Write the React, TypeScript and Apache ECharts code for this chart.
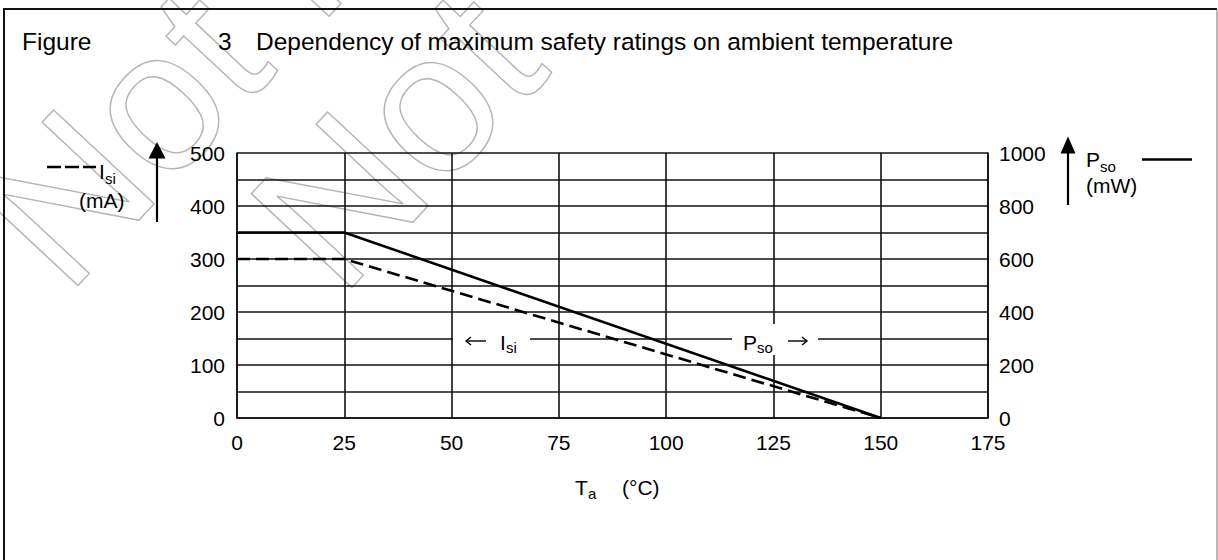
import React, { useEffect, useRef } from "react";
import * as echarts from "echarts";

// Ambient temperature Ta (°C) break points
const temperatures = [0, 25, 150];
// Safety current Isi (mA), left axis, dashed
const isiValues = [300, 300, 0];
// Safety power Pso (mW), right axis, solid
const psoValues = [700, 700, 0];
// Tick labels
const xTickLabels = [0, 25, 50, 75, 100, 125, 150, 175];
const leftTickLabels = [0, 100, 200, 300, 400, 500];
const rightTickLabels = [0, 200, 400, 600, 800, 1000];
const watermarkLines = ["Not for new design", "Not"];

const FONT = "'Liberation Sans', Arial, Helvetica, sans-serif";

export default function App() {
  const ref = useRef<HTMLDivElement>(null);
  useEffect(() => {
    if (!ref.current) return;
    const chart = echarts.init(ref.current, undefined, { renderer: "svg" });
    const txt = (text: string, x: number, y: number, size = 21, extra: any = {}) => ({
      type: "text",
      x,
      y,
      z: 10,
      style: {
        text,
        fill: "#000",
        font: `${size}px ${FONT}`,
        align: "left",
        verticalAlign: "middle",
        ...extra,
      },
    });
    const arrow = (x1: number, x2: number, y: number) => {
      const dir = x2 > x1 ? 1 : -1;
      return [
        { type: "line", z: 10, shape: { x1, y1: y, x2, y2: y }, style: { stroke: "#000", lineWidth: 1.4 } },
        {
          type: "polyline",
          z: 10,
          shape: { points: [[x2 - dir * 5, y - 4], [x2, y], [x2 - dir * 5, y + 4]] },
          style: { stroke: "#000", lineWidth: 1.4, fill: "none" },
        },
      ];
    };
    const watermark = (text: string, x: number, y: number) => ({
      type: "text",
      x,
      y,
      rotation: (47 * Math.PI) / 180,
      z: -1,
      silent: true,
      style: {
        text,
        font: `200px ${FONT}`,
        fill: "rgba(0,0,0,0)",
        stroke: "#b4b4b4",
        lineWidth: 1.4,
        align: "left",
        verticalAlign: "middle",
      },
    });
    const gridColor = "#111";
    const option: any = {
      animation: false,
      backgroundColor: "#fff",
      textStyle: { fontFamily: FONT },
      grid: { left: 237, right: 230, top: 153, bottom: 142, containLabel: false },
      xAxis: {
        type: "value",
        min: 0,
        max: 175,
        interval: 25,
        axisLine: { show: true, lineStyle: { color: gridColor, width: 1.6 } },
        axisTick: { show: false },
        splitLine: { show: true, lineStyle: { color: gridColor, width: 1.6 } },
        axisLabel: {
          color: "#000",
          fontSize: 21,
          fontFamily: FONT,
          margin: 14,
          formatter: (v: number) => (xTickLabels.includes(v) ? String(v) : ""),
        },
      },
      yAxis: [
        {
          type: "value",
          min: 0,
          max: 500,
          interval: 50,
          position: "left",
          axisLine: { show: true, lineStyle: { color: gridColor, width: 1.6 } },
          axisTick: { show: false },
          splitLine: { show: true, lineStyle: { color: gridColor, width: 1.6 } },
          axisLabel: {
            color: "#000",
            fontSize: 21,
            fontFamily: FONT,
            margin: 12,
            padding: [6, 0, 0, 0],
            formatter: (v: number) => (leftTickLabels.includes(v) ? String(v) : ""),
          },
        },
        {
          type: "value",
          min: 0,
          max: 1000,
          interval: 100,
          position: "right",
          axisLine: { show: true, lineStyle: { color: gridColor, width: 1.6 } },
          axisTick: { show: false },
          splitLine: { show: false },
          axisLabel: {
            color: "#000",
            fontSize: 21,
            fontFamily: FONT,
            margin: 11,
            padding: [6, 0, 0, 0],
            formatter: (v: number) => (rightTickLabels.includes(v) ? String(v) : ""),
          },
        },
      ],
      series: [
        {
          name: "Isi",
          type: "line",
          yAxisIndex: 0,
          symbol: "none",
          z: 5,
          lineStyle: { color: "#000", width: 2.6, type: [13, 6] },
          data: temperatures.map((t, i) => [t, isiValues[i]]),
        },
        {
          name: "Pso",
          type: "line",
          yAxisIndex: 1,
          symbol: "none",
          z: 5,
          lineStyle: { color: "#000", width: 2.6, type: "solid" },
          data: temperatures.map((t, i) => [t, psoValues[i]]),
        },
      ],
      graphic: [
        // watermark (outlined, light grey), two diagonal lines
        watermark(watermarkLines[0], 16, 250),
        watermark(watermarkLines[1], 290, 252),
        // frame
        { type: "line", shape: { x1: 3, y1: 9, x2: 1217, y2: 9 }, style: { stroke: "#111", lineWidth: 2 } },
        { type: "line", shape: { x1: 4, y1: 9, x2: 4, y2: 560 }, style: { stroke: "#111", lineWidth: 2 } },
        { type: "line", shape: { x1: 1217, y1: 9, x2: 1217, y2: 560 }, style: { stroke: "#888", lineWidth: 1.2 } },
        // title
        txt("Figure", 22, 41, 24.5),
        txt("3", 218, 41, 24.5),
        txt("Dependency of maximum safety ratings on ambient temperature", 256, 41, 24.5),
        // left axis annotation
        { type: "line", shape: { x1: 47, y1: 167, x2: 96, y2: 167 }, style: { stroke: "#000", lineWidth: 2.4, lineDash: [14, 4] } },
        txt("I", 99, 171.5, 21),
        txt("si", 105, 178.5, 15),
        txt("(mA)", 79, 200, 21),
        { type: "line", shape: { x1: 157, y1: 156, x2: 157, y2: 222 }, style: { stroke: "#000", lineWidth: 2.2 } },
        { type: "polygon", shape: { points: [[157, 142], [148.5, 158.5], [165.5, 158.5]] }, style: { fill: "#000" } },
        // right axis annotation
        { type: "line", shape: { x1: 1068, y1: 151, x2: 1068, y2: 205 }, style: { stroke: "#000", lineWidth: 2.2 } },
        { type: "polygon", shape: { points: [[1068, 136.5], [1060.5, 153.5], [1075.5, 153.5]] }, style: { fill: "#000" } },
        txt("P", 1086, 159, 21),
        txt("so", 1100, 166.5, 15),
        txt("(mW)", 1086, 185, 21),
        { type: "line", shape: { x1: 1142, y1: 159.5, x2: 1192, y2: 159.5 }, style: { stroke: "#000", lineWidth: 2.4 } },
        // in-plot labels
        { type: "rect", z: 9, shape: { x: 453, y: 324, width: 77, height: 31 }, style: { fill: "#fff" } },
        ...arrow(486, 466, 341),
        txt("I", 500, 342, 21),
        txt("si", 506, 347, 15),
        { type: "rect", z: 9, shape: { x: 732, y: 324, width: 86, height: 31 }, style: { fill: "#fff" } },
        txt("P", 743, 342, 21),
        txt("so", 757, 347, 15),
        ...arrow(788, 807, 341),
        // x axis name
        txt("T", 575, 487, 21),
        txt("a", 588, 493, 15),
        txt("(°C)", 622, 487, 21),
      ],
    };
    chart.setOption(option);
    return () => chart.dispose();
  }, []);
  return (
    <div
      ref={ref}
      style={{ position: "fixed", left: 0, top: 0, width: 1218, height: 560, background: "#fff" }}
    />
  );
}
